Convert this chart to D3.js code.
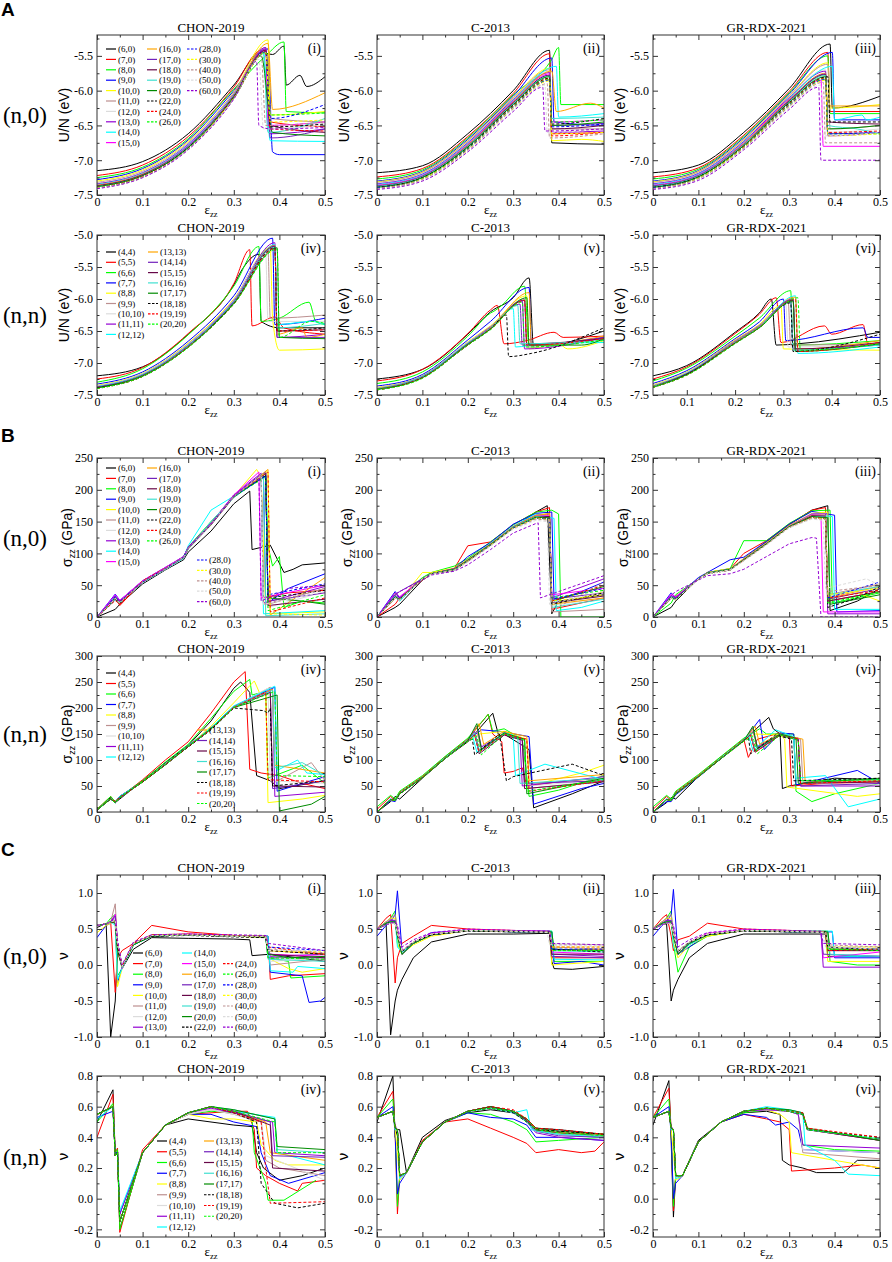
<!DOCTYPE html>
<html><head><meta charset="utf-8">
<script src="https://cdn.jsdelivr.net/npm/d3@7/dist/d3.min.js"></script>
<style>body{margin:0;background:#fff}</style>
</head><body>
<svg id="fig" width="892" height="1262"></svg>
<script>
// ---------- series styling / labels ----------
const COLORS = ["#000000","#ff0000","#00ff00","#0000ff","#ffff00","#bc8f8f","#dcdcdc","#9400d3","#00ffff","#ff00ff","#ffa500","#7221bc","#670748","#40e0d0","#008b00"];
const N0_LABELS = ["(6,0)","(7,0)","(8,0)","(9,0)","(10,0)","(11,0)","(12,0)","(13,0)","(14,0)","(15,0)","(16,0)","(17,0)","(18,0)","(19,0)","(20,0)","(22,0)","(24,0)","(26,0)","(28,0)","(30,0)","(40,0)","(50,0)","(60,0)"];
const N0_COLOR = [0,1,2,3,4,5,6,7,8,9,10,11,12,13,14,0,1,2,3,4,5,6,7];
const N0_DASH  = [0,0,0,0,0,0,0,0,0,0,0,0,0,0,0,1,1,1,1,1,1,1,1];
const NN_LABELS = ["(4,4)","(5,5)","(6,6)","(7,7)","(8,8)","(9,9)","(10,10)","(11,11)","(12,12)","(13,13)","(14,14)","(15,15)","(16,16)","(17,17)","(18,18)","(19,19)","(20,20)"];
const NN_COLOR = [0,1,2,3,4,5,6,7,8,10,11,12,13,14,0,1,2];
const NN_DASH  = [0,0,0,0,0,0,0,0,0,0,0,0,0,0,1,1,1];

// ---------- tick values ----------
const X_TICKS = [0,0.1,0.2,0.3,0.4,0.5];
const X_MINOR = [0.05,0.15,0.25,0.35,0.45];
const YT_A = [-7.5,-7.0,-6.5,-6.0,-5.5,-5.0];
const YT_B1 = [0,50,100,150,200,250];
const YT_B2 = [0,50,100,150,200,250,300];
const YT_C1 = [-1.0,-0.5,0.0,0.5,1.0];
const YT_C2 = [-0.2,0.0,0.2,0.4,0.6,0.8];

// ---------- strain grids (x) for the leading part of each series ----------
const GRID_A = [0,.1,.2,.3];
const GRID_A5 = [0,.1,.2,.25];
const GRID_A6 = [.03,.1,.2,.25];
const GRID_B1 = [0,.04,.05,.1,.15,.19,.2,.25,.3];
const GRID_B23 = [0,.04,.05,.1,.12,.17,.2,.25,.3,.35];
const GRID_B4 = [0,.03,.04,.05,.1,.15,.2,.25,.3];
const GRID_B56 = [0,.03,.04,.05,.1,.15,.2];
const GRID_C13 = [0,.02,.03,.04,.045,.055,.08,.12,.2,.3];
const GRID_C4 = [0,.035,.04,.045,.05,.1,.15,.2,.25,.3];
const GRID_C5 = [0,.035,.04,.045,.05,.065,.1,.15,.2,.25,.3];
const GRID_C6 = [0,.035,.04,.045,.05,.065,.1,.15,.2,.25];

// each series: [y values on grid], [tail as x,y,x,y,...]
// ---------- A: U/N (eV) ----------
const A_I = [
[[-7.15,-7.02,-6.62,-5.92],[.36,-5.45,.385,-5.48,.41,-5.36,.415,-5.92,.445,-5.78,.46,-5.94,.5,-5.8]],
[[-7.22,-7.07,-6.66,-5.95],[.36,-5.42,.375,-5.5,.38,-6.45,.5,-6.52]],
[[-7.25,-7.1,-6.69,-5.98],[.37,-5.5,.41,-5.3,.415,-6.3,.5,-6.32]],
[[-7.28,-7.12,-6.71,-6.0],[.375,-5.4,.385,-6.88,.4,-6.92,.5,-6.92]],
[[-7.3,-7.14,-6.73,-6.02],[.375,-5.27,.38,-6.35,.5,-6.3]],
[[-7.32,-7.16,-6.75,-6.03],[.37,-5.38,.38,-6.4,.5,-6.45]],
[[-7.33,-7.17,-6.76,-6.04],[.37,-5.4,.375,-6.55,.5,-6.45]],
[[-7.34,-7.18,-6.77,-6.05],[.37,-5.38,.38,-6.62,.5,-6.55]],
[[-7.35,-7.19,-6.78,-6.06],[.365,-5.45,.38,-6.72,.5,-6.73]],
[[-7.36,-7.2,-6.79,-6.07],[.37,-5.4,.375,-6.5,.5,-6.45]],
[[-7.36,-7.2,-6.8,-6.07],[.375,-5.32,.385,-6.27,.5,-6.03]],
[[-7.37,-7.21,-6.8,-6.08],[.37,-5.4,.38,-6.68,.5,-6.55]],
[[-7.37,-7.21,-6.81,-6.08],[.37,-5.42,.38,-6.5,.5,-6.6]],
[[-7.38,-7.22,-6.81,-6.09],[.365,-5.47,.375,-6.6,.5,-6.4]],
[[-7.38,-7.22,-6.82,-6.09],[.36,-5.5,.385,-6.6,.5,-6.65]],
[[-7.39,-7.23,-6.82,-6.1],[.37,-5.45,.38,-6.52,.5,-6.48]],
[[-7.39,-7.23,-6.83,-6.1],[.37,-5.43,.38,-6.55,.5,-6.58]],
[[-7.39,-7.24,-6.83,-6.11],[.37,-5.45,.38,-6.35,.5,-6.32]],
[[-7.4,-7.24,-6.84,-6.11],[.37,-5.44,.38,-6.4,.5,-6.2]],
[[-7.4,-7.24,-6.84,-6.11],[.37,-5.45,.38,-6.45,.5,-6.42]],
[[-7.4,-7.25,-6.84,-6.12],[.36,-5.5,.37,-6.5,.5,-6.45]],
[[-7.41,-7.25,-6.85,-6.12],[.355,-5.55,.365,-6.55,.5,-6.5]],
[[-7.41,-7.25,-6.85,-6.12],[.35,-5.58,.355,-6.5,.38,-6.55,.5,-6.53]]
];
const A_II = [
[[-7.18,-7.08,-6.62,-6.0],[.38,-5.42,.385,-6.75,.5,-6.77]],
[[-7.24,-7.12,-6.66,-6.04],[.38,-5.47,.385,-6.62,.5,-6.6]],
[[-7.27,-7.14,-6.68,-6.06],[.385,-5.55,.4,-5.38,.405,-6.2,.5,-6.2]],
[[-7.3,-7.16,-6.7,-6.08],[.385,-5.53,.39,-6.45,.5,-6.5]],
[[-7.31,-7.17,-6.72,-6.1],[.38,-5.68,.385,-6.72,.45,-6.7,.5,-6.73]],
[[-7.32,-7.18,-6.73,-6.11],[.38,-5.7,.385,-6.55,.5,-6.55]],
[[-7.33,-7.19,-6.74,-6.12],[.38,-5.72,.385,-6.5,.5,-6.48]],
[[-7.34,-7.2,-6.75,-6.13],[.38,-5.74,.385,-6.6,.5,-6.58]],
[[-7.35,-7.21,-6.76,-6.14],[.395,-5.65,.4,-6.38,.5,-6.33]],
[[-7.36,-7.22,-6.77,-6.15],[.38,-5.76,.385,-6.45,.5,-6.42]],
[[-7.37,-7.23,-6.78,-6.16],[.385,-5.72,.395,-6.3,.47,-6.18,.5,-6.25]],
[[-7.37,-7.23,-6.79,-6.17],[.38,-5.78,.385,-6.5,.5,-6.47]],
[[-7.38,-7.24,-6.8,-6.18],[.38,-5.78,.385,-6.55,.5,-6.5]],
[[-7.38,-7.24,-6.8,-6.19],[.38,-5.79,.385,-6.4,.5,-6.38]],
[[-7.39,-7.25,-6.81,-6.2],[.38,-5.8,.385,-6.5,.5,-6.45]],
[[-7.39,-7.25,-6.82,-6.21],[.38,-5.82,.385,-6.48,.5,-6.4]],
[[-7.4,-7.26,-6.83,-6.22],[.38,-5.83,.385,-6.65,.5,-6.6]],
[[-7.4,-7.26,-6.83,-6.23],[.38,-5.84,.385,-6.45,.5,-6.42]],
[[-7.4,-7.27,-6.84,-6.24],[.38,-5.85,.385,-6.52,.5,-6.48]],
[[-7.41,-7.27,-6.85,-6.25],[.38,-5.86,.385,-6.62,.5,-6.6]],
[[-7.41,-7.28,-6.86,-6.26],[.375,-5.9,.38,-6.68,.5,-6.62]],
[[-7.42,-7.29,-6.87,-6.28],[.37,-5.92,.375,-6.6,.5,-6.55]],
[[-7.42,-7.3,-6.88,-6.3],[.365,-5.95,.37,-6.58,.5,-6.55]]
];
const A_III = [
[[-7.18,-7.07,-6.6,-5.97],[.39,-5.33,.395,-6.25,.5,-6.08]],
[[-7.24,-7.11,-6.64,-6.01],[.385,-5.45,.39,-6.3,.5,-6.3]],
[[-7.27,-7.13,-6.66,-6.03],[.385,-5.5,.39,-6.33,.5,-6.33]],
[[-7.3,-7.15,-6.68,-6.05],[.395,-5.45,.4,-6.42,.5,-6.42]],
[[-7.31,-7.16,-6.7,-6.07],[.385,-5.6,.39,-6.25,.5,-6.2]],
[[-7.32,-7.17,-6.71,-6.08],[.385,-5.62,.39,-6.55,.5,-6.5]],
[[-7.33,-7.18,-6.72,-6.09],[.38,-5.7,.385,-6.6,.5,-6.55]],
[[-7.34,-7.19,-6.73,-6.1],[.38,-5.72,.385,-6.65,.5,-6.6]],
[[-7.35,-7.2,-6.74,-6.11],[.395,-5.65,.4,-6.42,.46,-6.35,.47,-6.42,.5,-6.38]],
[[-7.36,-7.21,-6.75,-6.12],[.37,-5.85,.375,-6.8,.5,-6.8]],
[[-7.37,-7.22,-6.76,-6.13],[.38,-5.75,.385,-6.22,.5,-6.22]],
[[-7.37,-7.22,-6.77,-6.14],[.38,-5.76,.385,-6.62,.5,-6.6]],
[[-7.38,-7.23,-6.78,-6.15],[.38,-5.77,.385,-6.45,.5,-6.48]],
[[-7.38,-7.23,-6.78,-6.16],[.38,-5.78,.385,-6.5,.45,-6.55,.5,-6.62]],
[[-7.39,-7.24,-6.79,-6.17],[.38,-5.8,.385,-6.55,.5,-6.5]],
[[-7.39,-7.24,-6.8,-6.18],[.385,-5.8,.39,-6.45,.5,-6.45]],
[[-7.4,-7.25,-6.8,-6.19],[.38,-5.82,.385,-6.6,.5,-6.58]],
[[-7.4,-7.25,-6.81,-6.2],[.38,-5.83,.385,-6.62,.5,-6.62]],
[[-7.4,-7.26,-6.82,-6.21],[.38,-5.84,.385,-6.62,.5,-6.6]],
[[-7.41,-7.26,-6.82,-6.22],[.38,-5.85,.385,-6.65,.5,-6.62]],
[[-7.41,-7.27,-6.83,-6.23],[.375,-5.88,.38,-6.75,.5,-6.75]],
[[-7.42,-7.28,-6.84,-6.25],[.37,-5.92,.375,-6.65,.5,-6.6]],
[[-7.42,-7.29,-6.85,-6.27],[.365,-5.95,.37,-7.0,.5,-7.0]]
];
const A_IV = [
[[-7.2,-7.06,-6.55,-5.78],[.32,-5.52,.355,-5.3,.36,-6.35,.4,-6.45,.5,-6.45]],
[[-7.25,-7.07,-6.54,-5.76],[.335,-5.23,.34,-6.42,.39,-6.28,.41,-6.45,.5,-6.55]],
[[-7.3,-7.09,-6.56,-5.8],[.355,-5.18,.36,-6.35,.4,-6.3,.465,-6.05,.48,-6.35,.5,-6.4]],
[[-7.33,-7.14,-6.66,-5.95],[.385,-5.05,.39,-6.4,.5,-6.3]],
[[-7.35,-7.16,-6.69,-6.0],[.38,-5.2,.385,-6.3,.4,-6.8,.5,-6.78]],
[[-7.36,-7.17,-6.7,-6.01],[.375,-5.25,.38,-6.3,.5,-6.25]],
[[-7.36,-7.17,-6.71,-6.02],[.37,-5.3,.375,-6.35,.5,-6.35]],
[[-7.37,-7.18,-6.72,-6.03],[.39,-5.12,.395,-6.6,.5,-6.55]],
[[-7.37,-7.18,-6.72,-6.04],[.39,-5.15,.395,-6.4,.47,-6.35,.5,-6.4]],
[[-7.38,-7.19,-6.73,-6.05],[.39,-5.16,.395,-6.55,.45,-6.45,.46,-6.6,.5,-6.55]],
[[-7.38,-7.19,-6.73,-6.05],[.39,-5.17,.395,-6.6,.5,-6.6]],
[[-7.38,-7.2,-6.74,-6.06],[.39,-5.18,.395,-6.5,.5,-6.48]],
[[-7.39,-7.2,-6.74,-6.06],[.39,-5.19,.395,-6.45,.5,-6.38]],
[[-7.39,-7.2,-6.75,-6.07],[.395,-5.2,.4,-6.6,.5,-6.62]],
[[-7.39,-7.21,-6.75,-6.07],[.39,-5.2,.395,-6.5,.5,-6.45]],
[[-7.4,-7.21,-6.75,-6.08],[.39,-5.21,.395,-6.5,.5,-6.48]],
[[-7.4,-7.21,-6.76,-6.08],[.395,-5.22,.4,-6.6,.47,-6.35,.5,-6.38]]
];
const A_V = [
[[-7.25,-7.1,-6.55,-6.2],[.3,-5.98,.335,-5.67,.345,-6.75,.5,-6.5]],
[[-7.28,-7.1,-6.54,-6.17],[.265,-6.1,.28,-6.7,.33,-6.65,.39,-6.52,.41,-6.6,.5,-6.58]],
[[-7.32,-7.14,-6.58,-6.22],[.26,-6.18,.27,-6.13,.325,-5.8,.335,-6.75,.5,-6.6]],
[[-7.36,-7.18,-6.64,-6.35],[.335,-5.82,.34,-6.72,.5,-6.62]],
[[-7.38,-7.2,-6.67,-6.42],[.33,-5.95,.335,-6.78,.4,-6.7,.42,-6.78,.5,-6.65]],
[[-7.39,-7.2,-6.68,-6.43],[.325,-6.0,.33,-6.75,.5,-6.6]],
[[-7.39,-7.21,-6.68,-6.44],[.32,-6.02,.325,-6.75,.5,-6.62]],
[[-7.4,-7.21,-6.69,-6.44],[.32,-6.03,.325,-6.78,.5,-6.6]],
[[-7.4,-7.21,-6.69,-6.45],[.3,-6.15,.305,-6.75,.36,-6.7,.5,-6.68]],
[[-7.4,-7.22,-6.7,-6.45],[.335,-5.9,.34,-6.72,.5,-6.58]],
[[-7.41,-7.22,-6.7,-6.46],[.315,-6.08,.32,-6.72,.5,-6.6]],
[[-7.41,-7.22,-6.71,-6.46],[.325,-6.02,.33,-6.7,.5,-6.62]],
[[-7.41,-7.22,-6.71,-6.46],[.31,-6.1,.315,-6.7,.5,-6.65]],
[[-7.41,-7.23,-6.71,-6.47],[.33,-5.98,.335,-6.72,.45,-6.72,.5,-6.62]],
[[-7.42,-7.23,-6.72,-6.47],[.285,-6.25,.29,-6.9,.34,-6.85,.5,-6.45]],
[[-7.42,-7.23,-6.72,-6.47],[.325,-6.02,.33,-6.72,.5,-6.62]],
[[-7.42,-7.24,-6.72,-6.48],[.32,-6.05,.325,-6.75,.5,-6.64]]
];
const A_VI = [
[[-7.2,-7.04,-6.52,-6.22],[.275,-6.0,.285,-6.72,.33,-6.7,.5,-6.52]],
[[-7.25,-7.06,-6.54,-6.24],[.285,-5.98,.295,-6.68,.385,-6.42,.4,-6.55,.465,-6.4,.475,-6.7,.5,-6.68]],
[[-7.28,-7.08,-6.58,-6.3],[.315,-5.87,.32,-6.72,.5,-6.65]],
[[-7.32,-7.12,-6.62,-6.36],[.3,-6.0,.305,-6.65,.465,-6.45,.475,-6.6,.5,-6.6]],
[[-7.34,-7.14,-6.64,-6.4],[.295,-6.1,.3,-6.78,.5,-6.8]],
[[-7.35,-7.15,-6.65,-6.41],[.31,-6.05,.315,-6.72,.5,-6.7]],
[[-7.35,-7.15,-6.66,-6.42],[.305,-6.08,.31,-6.75,.5,-6.7]],
[[-7.36,-7.16,-6.66,-6.42],[.315,-6.02,.32,-6.78,.5,-6.72]],
[[-7.36,-7.16,-6.67,-6.43],[.325,-5.95,.33,-6.85,.5,-6.75]],
[[-7.36,-7.17,-6.67,-6.43],[.325,-5.97,.33,-6.78,.5,-6.65]],
[[-7.37,-7.17,-6.68,-6.44],[.32,-6.0,.325,-6.8,.5,-6.7]],
[[-7.37,-7.17,-6.68,-6.44],[.32,-6.02,.325,-6.78,.5,-6.68]],
[[-7.37,-7.18,-6.68,-6.44],[.315,-6.05,.32,-6.8,.5,-6.72]],
[[-7.38,-7.18,-6.69,-6.45],[.32,-6.03,.325,-6.82,.5,-6.7]],
[[-7.38,-7.18,-6.69,-6.45],[.315,-6.06,.32,-6.82,.5,-6.55]],
[[-7.38,-7.19,-6.69,-6.45],[.325,-6.0,.33,-6.82,.5,-6.68]],
[[-7.38,-7.19,-6.7,-6.45],[.33,-5.98,.335,-6.8,.5,-6.7]]
];
// ---------- B: sigma_zz (GPa) ----------
const B_I = [
[[0,12,20,52,74,90,102,135,178],[.335,198,.34,106,.38,113,.41,70,.43,75,.45,82,.5,85]],
[[0,30,18,56,77,93,110,146,190],[.36,222,.365,30,.42,38,.5,42]],
[[0,33,24,55,76,95,110,150,188],[.37,225,.375,112,.385,80,.4,95,.41,15,.45,25,.5,22]],
[[0,36,26,57,78,95,109,146,190],[.365,224,.37,20,.42,45,.5,68]],
[[0,30,22,55,76,94,108,147,190],[.35,232,.36,220,.37,5,.5,8]],
[[0,28,24,55,75,93,107,145,188],[.37,228,.375,20,.5,45]],
[[0,26,22,54,75,92,106,144,188],[.37,226,.375,15,.5,40]],
[[0,34,25,56,77,95,110,148,192],[.36,226,.365,22,.5,48]],
[[0,32,22,55,76,94,112,168,190],[.36,224,.365,5,.5,10]],
[[0,35,26,57,78,95,109,147,192],[.355,228,.36,30,.5,50]],
[[0,28,22,55,76,93,108,146,190],[.375,232,.38,3,.5,62]],
[[0,30,24,55,76,94,110,147,191],[.37,228,.375,25,.5,38]],
[[0,28,23,55,76,93,108,145,189],[.37,226,.375,18,.5,28]],
[[0,27,22,54,75,92,107,150,188],[.365,220,.37,2,.5,5]],
[[0,30,24,55,76,94,108,146,190],[.37,222,.375,30,.45,25,.5,20]],
[[0,28,22,55,76,94,108,146,189],[.37,222,.375,30,.5,42]],
[[0,26,20,57,77,94,108,146,190],[.375,228,.38,8,.5,30]],
[[0,30,24,55,76,94,108,146,190],[.37,220,.375,10,.5,35]],
[[0,32,24,55,76,94,108,146,190],[.37,222,.375,35,.5,52]],
[[0,30,23,55,76,94,108,146,190],[.375,230,.38,5,.5,3]],
[[0,29,23,55,76,94,108,146,190],[.36,224,.365,20,.5,45]],
[[0,29,23,55,76,94,108,146,190],[.36,222,.365,20,.5,40]],
[[0,31,24,55,76,94,108,146,190],[.355,222,.36,25,.42,45,.5,50]]
];
const B_II = [
[[0,15,20,58,68,73,88,113,140,165],[.375,175,.385,5,.4,25,.5,35]],
[[0,20,30,58,68,76,112,118,145,165],[.38,172,.385,12,.5,30]],
[[0,38,30,62,70,80,92,118,145,165],[.385,168,.4,162,.405,0,.5,0]],
[[0,40,30,60,69,76,95,117,146,163],[.385,165,.39,25,.45,40,.5,55]],
[[0,32,26,70,70,77,90,115,142,160],[.38,163,.385,20,.45,30,.5,40]],
[[0,30,27,60,68,75,89,114,141,158],[.38,160,.385,8,.5,12]],
[[0,30,27,60,68,75,89,114,141,158],[.38,160,.385,18,.5,30]],
[[0,34,30,60,68,76,90,115,142,160],[.38,162,.385,30,.5,60]],
[[0,32,25,60,68,75,90,116,143,162],[.39,155,.395,10,.45,15,.5,25]],
[[0,38,32,60,68,76,90,115,142,160],[.38,160,.385,35,.5,45]],
[[0,30,28,60,68,76,90,115,142,160],[.38,162,.385,20,.5,30]],
[[0,35,40,60,68,76,88,114,141,158],[.38,158,.385,28,.5,38]],
[[0,30,27,60,68,75,89,114,141,158],[.38,158,.385,22,.5,33]],
[[0,33,26,60,68,75,89,114,141,158],[.38,156,.385,15,.5,28]],
[[0,32,28,60,68,75,89,114,140,157],[.38,156,.385,25,.5,48]],
[[0,30,27,60,68,74,88,113,140,156],[.38,155,.385,20,.5,38]],
[[0,31,27,60,68,74,88,113,140,156],[.38,155,.385,25,.5,50]],
[[0,31,27,60,68,74,88,113,140,156],[.38,154,.385,30,.5,42]],
[[0,31,27,60,68,74,88,113,140,155],[.38,154,.385,28,.5,45]],
[[0,30,27,60,68,74,88,113,140,155],[.38,153,.385,25,.5,35]],
[[0,30,27,60,68,74,87,112,139,154],[.38,152,.385,10,.5,55]],
[[0,30,26,60,67,73,86,111,138,152],[.375,150,.38,20,.5,40]],
[[0,36,40,58,66,72,82,106,132,147],[.355,148,.36,30,.42,45,.5,65]]
];
const B_III = [
[[0,15,25,60,70,74,92,118,145,168],[.385,175,.39,10,.45,25,.5,45]],
[[0,30,32,60,70,76,100,120,146,168],[.38,172,.385,25,.5,40]],
[[0,22,35,60,70,76,120,120,147,167],[.39,168,.395,22,.5,38]],
[[0,38,30,62,70,90,94,119,146,166],[.4,160,.405,8,.5,10]],
[[0,32,28,60,70,76,92,117,144,163],[.385,165,.39,28,.45,38,.5,25]],
[[0,30,28,60,69,75,91,116,143,162],[.38,163,.385,35,.5,52]],
[[0,30,28,60,69,75,91,116,143,162],[.38,162,.385,32,.5,50]],
[[0,34,30,60,69,75,91,116,143,162],[.38,162,.385,5,.5,5]],
[[0,32,28,60,69,75,91,116,143,161],[.395,158,.4,12,.5,12]],
[[0,36,32,60,69,75,91,116,143,161],[.37,160,.375,8,.5,8]],
[[0,30,28,60,69,75,91,116,143,160],[.38,160,.385,30,.5,48]],
[[0,33,30,60,69,75,90,115,142,159],[.38,159,.385,28,.5,45]],
[[0,30,28,60,69,75,90,115,142,159],[.38,158,.385,25,.5,40]],
[[0,32,27,60,69,75,90,115,142,158],[.385,157,.39,35,.5,48]],
[[0,31,28,60,69,75,90,115,142,158],[.385,156,.39,20,.5,35]],
[[0,30,27,60,68,74,89,114,141,157],[.38,155,.385,15,.45,30,.5,48]],
[[0,31,27,60,68,74,89,114,141,157],[.38,155,.385,30,.5,42]],
[[0,31,28,60,68,74,89,114,141,156],[.38,155,.385,22,.5,40]],
[[0,31,28,60,68,74,89,114,141,156],[.38,154,.385,30,.5,55]],
[[0,30,27,60,68,74,89,114,141,156],[.38,154,.385,35,.5,45]],
[[0,30,27,60,68,74,89,114,141,155],[.38,153,.385,40,.5,50]],
[[0,30,27,60,68,74,88,113,140,154],[.375,152,.38,45,.47,60,.5,50]],
[[0,34,40,58,65,68,75,95,115,125],[.36,124,.37,0,.5,0]]
];
const B_IV = [
[[5,28,18,25,60,95,128,175,238],[.315,250,.335,230,.35,70,.38,60,.4,45,.5,60]],
[[5,30,18,28,62,100,135,190,250],[.325,270,.335,82,.36,75,.4,70,.45,55,.5,45]],
[[5,30,20,30,60,96,130,180,232],[.335,255,.34,225,.37,232,.375,65,.45,90,.5,55]],
[[4,25,18,30,58,92,127,162,203],[.39,240,.395,40,.45,55,.5,68]],
[[4,26,20,28,58,92,126,165,210],[.345,252,.36,222,.37,230,.375,18,.45,25,.5,32]],
[[4,26,18,28,58,92,126,160,202],[.38,240,.385,55,.47,95,.5,60]],
[[4,25,18,27,58,91,126,160,202],[.375,238,.38,60,.5,55]],
[[4,26,20,30,58,92,127,161,203],[.385,236,.39,30,.5,38]],
[[4,26,18,30,58,92,127,162,204],[.39,242,.395,80,.44,100,.46,75,.5,72]],
[[4,25,20,28,58,91,126,160,202],[.385,236,.39,90,.5,75]],
[[4,25,18,28,58,91,126,160,202],[.38,232,.385,45,.5,60]],
[[4,25,18,27,58,91,126,160,201],[.38,230,.385,50,.5,48]],
[[4,25,18,28,58,91,126,160,202],[.385,234,.39,85,.45,95,.5,70]],
[[4,25,18,28,58,91,126,160,201],[.395,225,.4,2,.47,15,.5,30]],
[[4,25,20,28,58,91,125,158,200],[.365,195,.375,190,.38,200,.385,50,.5,60]],
[[4,25,20,28,58,91,126,160,201],[.37,230,.375,62,.5,58]],
[[4,25,18,28,58,91,126,160,201],[.39,232,.395,70,.5,68]]
];
const B_V = [
[[0,20,30,25,65,103,135],[.255,190,.27,140,.28,150,.335,120,.345,8,.43,35,.5,60]],
[[5,30,22,38,68,106,140],[.245,188,.255,150,.275,135,.28,75,.3,78,.32,85,.33,50,.42,60,.5,65]],
[[10,32,25,40,70,107,142],[.245,188,.255,155,.28,160,.32,140,.335,30,.4,42,.5,70]],
[[0,22,20,35,66,104,138],[.23,158,.27,155,.335,145,.345,15,.45,45,.5,55]],
[[0,24,22,36,66,104,138],[.225,150,.28,155,.33,140,.335,50,.45,75,.5,90]],
[[0,24,22,36,66,104,137],[.22,155,.23,120,.28,152,.325,140,.33,45,.5,60]],
[[0,24,22,36,66,104,137],[.215,150,.225,125,.28,150,.325,138,.33,50,.5,62]],
[[0,25,22,36,66,104,138],[.22,165,.23,125,.28,150,.315,142,.32,50,.5,68]],
[[0,25,22,36,66,104,138],[.21,148,.22,115,.28,152,.3,148,.305,70,.37,92,.5,62]],
[[0,24,22,35,66,103,137],[.225,170,.235,130,.28,155,.33,145,.335,60,.5,72]],
[[0,24,22,35,66,103,137],[.215,155,.225,118,.28,150,.32,140,.325,55,.5,60]],
[[0,24,22,35,66,103,137],[.215,150,.225,112,.28,148,.32,138,.325,45,.5,58]],
[[0,24,22,35,66,103,137],[.215,152,.225,115,.28,150,.31,145,.315,55,.5,65]],
[[0,24,22,35,66,103,137],[.22,170,.23,120,.28,152,.325,140,.33,35,.5,65]],
[[0,24,22,35,66,103,136],[.21,140,.215,110,.27,150,.285,60,.3,68,.43,92,.5,70]],
[[0,24,22,35,66,103,136],[.215,148,.225,115,.28,150,.33,140,.335,40,.5,60]],
[[0,24,22,35,66,103,136],[.22,145,.23,110,.28,150,.325,138,.33,40,.5,62]]
];
const B_VI = [
[[0,18,28,25,68,103,138],[.255,182,.265,160,.28,150,.285,45,.3,50,.4,65,.5,62]],
[[5,30,22,38,70,106,140],[.21,105,.23,140,.28,152,.3,150,.305,50,.38,55,.5,58]],
[[10,32,25,40,72,107,142],[.235,160,.25,150,.31,150,.315,40,.35,20,.4,35,.5,55]],
[[0,20,20,33,67,103,138],[.235,178,.245,120,.28,152,.31,150,.315,52,.45,80,.5,55]],
[[0,24,22,36,68,104,138],[.225,150,.28,148,.29,140,.295,48,.45,30,.5,35]],
[[0,24,22,36,68,104,137],[.22,155,.23,125,.28,148,.325,140,.33,60,.5,58]],
[[0,24,22,36,68,104,137],[.215,148,.225,120,.28,148,.32,140,.325,55,.5,52]],
[[0,25,22,36,68,104,138],[.22,160,.23,125,.28,150,.32,142,.325,50,.5,50]],
[[0,25,22,36,68,104,138],[.21,150,.22,118,.27,158,.31,145,.315,65,.38,70,.43,10,.5,25]],
[[0,24,22,35,68,103,137],[.225,165,.235,130,.28,150,.33,140,.335,60,.5,60]],
[[0,24,22,35,68,103,137],[.215,150,.225,118,.28,148,.32,140,.325,50,.5,55]],
[[0,24,22,35,68,103,137],[.215,150,.225,115,.28,148,.32,138,.325,55,.5,58]],
[[0,24,22,35,68,103,137],[.215,152,.225,118,.28,150,.31,145,.315,60,.5,62]],
[[0,24,22,35,68,103,137],[.22,165,.23,122,.28,150,.315,142,.32,55,.5,65]],
[[0,24,22,35,68,103,136],[.21,145,.215,112,.27,148,.305,140,.31,60,.5,65]],
[[0,24,22,35,68,103,136],[.215,148,.225,115,.28,148,.32,140,.325,55,.5,60]],
[[0,24,22,35,68,103,136],[.22,145,.23,112,.28,148,.32,138,.325,60,.5,62]]
];
// ---------- C: Poisson ratio ----------
const C_I = [
[[.52,.58,-1,-.5,.25,-.05,.22,.38,.37,.36],[.335,.35,.34,.13,.38,.15,.5,.05]],
[[.55,.57,.6,-.38,.1,.2,.3,.55,.46,.41],[.375,.4,.38,-.2,.42,-.15,.5,-.12]],
[[.55,.57,.65,.7,-.15,-.05,.28,.4,.42,.4],[.37,.4,.375,.1,.42,.05,.425,-.18,.5,-.15]],
[[.38,.55,.58,.62,-.25,-.02,.28,.4,.42,.4],[.375,.4,.38,-.1,.45,-.15,.465,-.52,.49,-.5,.5,-.45]],
[[.45,.55,.58,.62,-.3,-.05,.3,.4,.42,.4],[.37,.38,.375,.1,.42,-.05,.45,-.1,.5,-.05]],
[[.55,.57,.6,.85,.3,0,.3,.42,.43,.41],[.37,.4,.38,0,.5,.08]],
[[.55,.57,.6,.65,.25,-.02,.3,.4,.42,.4],[.37,.4,.38,.05,.5,.1]],
[[.55,.57,.6,.7,.3,-.02,.3,.41,.42,.4],[.37,.4,.38,.12,.5,.15]],
[[.55,.57,.6,.55,-.2,-.05,.28,.4,.42,.4],[.375,.4,.38,-.08,.43,-.1,.44,-.02,.5,-.05]],
[[.55,.57,.6,.7,.3,-.05,.3,.41,.43,.41],[.37,.4,.375,.15,.5,.12]],
[[.55,.57,.6,.62,.2,-.03,.3,.4,.42,.4],[.37,.4,.375,.2,.5,.15]],
[[.55,.57,.6,.68,.3,-.02,.3,.4,.42,.4],[.37,.4,.375,.1,.5,.1]],
[[.55,.57,.6,.6,.25,-.03,.3,.4,.42,.4],[.37,.39,.375,.15,.5,.1]],
[[.55,.57,.6,.6,.2,-.04,.28,.4,.42,.4],[.37,.39,.375,.08,.5,.05]],
[[.55,.57,.6,.58,.2,-.03,.28,.4,.42,.4],[.37,.39,.375,.15,.42,.1,.5,.12]],
[[.55,.57,.6,.6,.25,-.03,.3,.4,.41,.39],[.37,.38,.375,.2,.5,.15]],
[[.55,.57,.6,.6,.3,-.02,.3,.42,.43,.41],[.37,.4,.375,.25,.5,.15]],
[[.55,.57,.6,.62,.3,-.02,.3,.41,.42,.4],[.37,.4,.375,.1,.5,.08]],
[[.55,.57,.6,.62,.3,-.02,.3,.41,.42,.4],[.37,.4,.375,.25,.5,.2]],
[[.55,.57,.6,.62,.3,-.02,.3,.41,.42,.4],[.37,.4,.375,.2,.5,.18]],
[[.55,.57,.6,.62,.3,-.02,.3,.41,.42,.4],[.37,.4,.375,.22,.5,.17]],
[[.55,.57,.6,.62,.3,-.02,.3,.41,.42,.4],[.37,.4,.375,.2,.5,.2]],
[[.55,.57,.6,.65,.35,0,.32,.42,.43,.42],[.37,.41,.375,.3,.5,.2]]
];
const C_II = [
[[.5,.57,-.97,-.5,-.35,-.2,.1,.32,.43,.43],[.38,.44,.385,.05,.39,-.05,.43,-.06,.5,-.02]],
[[.5,.65,.7,-.25,.1,.3,.4,.55,.5,.48],[.38,.47,.385,.1,.5,.1]],
[[.5,.6,.65,.75,.3,.15,.3,.42,.48,.47],[.385,.47,.39,.05,.45,.05,.5,.05]],
[[.4,.55,.6,.7,1.03,.2,.3,.45,.48,.46],[.385,.46,.39,.02,.45,.05,.5,0]],
[[.5,.6,.65,.65,.3,.15,.28,.4,.48,.47],[.38,.47,.385,0,.5,.05]],
[[.5,.6,.65,.7,.5,.15,.3,.42,.48,.47],[.38,.47,.385,.25,.5,.22]],
[[.5,.58,.62,.6,.4,.15,.3,.42,.48,.47],[.38,.47,.385,.3,.5,.28]],
[[.5,.58,.62,.6,.45,.15,.3,.42,.48,.47],[.38,.47,.385,.15,.5,.12]],
[[.5,.58,.6,.62,.25,.18,.3,.42,.48,.47],[.385,.47,.39,.08,.5,.07]],
[[.5,.58,.62,.62,.5,.2,.32,.44,.49,.48],[.38,.47,.385,.18,.5,.15]],
[[.5,.58,.6,.6,.4,.15,.3,.42,.48,.47],[.38,.46,.385,.2,.5,.22]],
[[.5,.58,.62,.62,.45,.15,.3,.42,.48,.47],[.38,.46,.385,.12,.5,.1]],
[[.5,.58,.6,.6,.42,.15,.3,.42,.48,.47],[.38,.46,.385,.15,.5,.15]],
[[.5,.58,.6,.6,.4,.15,.3,.42,.48,.47],[.385,.46,.39,.2,.5,.18]],
[[.5,.58,.6,.6,.4,.15,.3,.42,.48,.46],[.385,.46,.39,.22,.5,.2]],
[[.5,.56,.58,.58,.42,.18,.32,.42,.47,.46],[.38,.46,.385,.22,.5,.18]],
[[.5,.56,.58,.58,.45,.2,.32,.43,.48,.47],[.38,.46,.385,.25,.5,.25]],
[[.5,.56,.58,.58,.45,.2,.32,.43,.48,.47],[.38,.46,.385,.2,.5,.2]],
[[.5,.56,.58,.58,.45,.2,.32,.43,.48,.47],[.38,.46,.385,.22,.5,.22]],
[[.5,.56,.58,.58,.45,.2,.32,.43,.48,.47],[.38,.46,.385,.25,.5,.25]],
[[.5,.56,.58,.58,.45,.2,.32,.43,.48,.47],[.38,.46,.385,.28,.5,.28]],
[[.5,.56,.58,.58,.45,.2,.32,.43,.48,.47],[.375,.45,.38,.28,.5,.25]],
[[.5,.56,.58,.6,.55,.25,.35,.45,.5,.48],[.38,.47,.385,.3,.5,.28]]
];
const C_III = [
[[.5,.57,.57,-.5,-.35,-.2,.1,.3,.43,.43],[.38,.43,.385,.12,.45,.12,.5,.12]],
[[.5,.65,.7,.4,.2,.35,.4,.58,.5,.48],[.38,.47,.385,.2,.5,.2]],
[[.5,.6,.65,.75,.3,-.1,.25,.4,.48,.47],[.385,.47,.39,.05,.45,0,.5,0]],
[[.4,.55,.6,.7,1.05,.15,.25,.42,.48,.46],[.395,.46,.4,.1,.5,.1]],
[[.5,.6,.65,.65,.3,.1,.28,.4,.48,.47],[.38,.47,.385,.05,.5,.05]],
[[.5,.6,.65,.7,.5,.15,.3,.42,.48,.47],[.38,.47,.385,.25,.5,.22]],
[[.5,.58,.62,.6,.4,.15,.3,.42,.48,.47],[.38,.47,.385,.25,.5,.25]],
[[.5,.58,.62,.6,.45,.15,.3,.42,.48,.47],[.37,.46,.375,-.03,.5,-.03]],
[[.5,.58,.6,.62,.25,.15,.28,.42,.48,.47],[.395,.47,.4,.12,.5,.12]],
[[.5,.58,.62,.62,.5,.15,.32,.44,.49,.48],[.37,.46,.375,.1,.5,.18]],
[[.5,.58,.6,.6,.4,.15,.3,.42,.48,.47],[.38,.46,.385,.22,.5,.22]],
[[.5,.58,.62,.62,.45,.15,.3,.42,.48,.47],[.37,.46,.375,.15,.5,.12]],
[[.5,.58,.6,.6,.42,.15,.3,.42,.48,.47],[.38,.46,.385,.2,.5,.2]],
[[.5,.58,.6,.6,.4,.15,.3,.42,.48,.47],[.385,.46,.39,.15,.5,.12]],
[[.5,.58,.6,.6,.4,.15,.3,.42,.48,.46],[.385,.46,.39,.22,.5,.22]],
[[.5,.56,.58,.58,.42,.18,.32,.42,.47,.46],[.38,.46,.385,.25,.5,.2]],
[[.5,.56,.58,.58,.45,.2,.32,.43,.48,.47],[.38,.46,.385,.2,.5,.22]],
[[.5,.56,.58,.58,.45,.2,.32,.43,.48,.47],[.38,.46,.385,.22,.5,.2]],
[[.5,.56,.58,.58,.45,.2,.32,.43,.48,.47],[.38,.46,.385,.25,.5,.22]],
[[.5,.56,.58,.58,.45,.2,.32,.43,.48,.47],[.38,.46,.385,.25,.5,.25]],
[[.5,.56,.58,.58,.45,.2,.32,.43,.48,.47],[.38,.46,.385,.28,.5,.25]],
[[.5,.56,.58,.58,.45,.2,.32,.43,.48,.47],[.375,.45,.38,.25,.5,.22]],
[[.5,.56,.58,.6,.55,.25,.35,.45,.5,.48],[.37,.47,.375,.3,.5,.28]]
];
const C_IV = [
[[.5,.71,.28,.3,-.2,.3,.48,.52,.5,.48],[.34,.47,.345,.4,.35,.3,.365,.2,.4,.12,.45,.15,.5,.2]],
[[.4,.68,.3,.33,-.22,.32,.48,.55,.56,.57],[.33,.57,.345,.45,.35,.2,.37,.15,.4,.1,.44,.05,.45,.1,.5,.12]],
[[.5,.62,.28,.32,-.2,.3,.48,.55,.57,.56],[.34,.52,.345,.3,.37,.1,.375,-.01,.41,-.01,.48,.12]],
[[.53,.57,.3,.3,-.1,.3,.48,.55,.55,.5],[.35,.47,.36,.3,.38,.15,.42,.1,.5,.17]],
[[.55,.6,.28,.3,-.15,.3,.48,.55,.52,.52],[.35,.5,.36,.35,.39,.25,.42,.22,.5,.22]],
[[.55,.6,.28,.3,-.15,.3,.48,.55,.58,.55],[.36,.5,.37,.25,.4,.2,.5,.15]],
[[.55,.6,.28,.3,-.15,.3,.48,.55,.58,.55],[.36,.52,.37,.28,.5,.12]],
[[.55,.6,.28,.3,-.1,.3,.48,.56,.59,.56],[.385,.5,.39,.3,.5,.28]],
[[.52,.6,.28,.3,-.08,.3,.48,.56,.6,.57],[.39,.53,.395,.3,.5,.22]],
[[.55,.6,.28,.3,-.15,.3,.48,.56,.6,.57],[.37,.5,.38,.3,.5,.25]],
[[.55,.6,.28,.3,-.15,.3,.48,.56,.6,.57],[.38,.5,.385,.28,.5,.27]],
[[.55,.6,.28,.3,-.15,.3,.48,.56,.6,.57],[.38,.48,.385,.2,.5,.18]],
[[.55,.6,.28,.3,-.15,.3,.48,.56,.6,.58],[.39,.52,.395,.32,.5,.3]],
[[.55,.6,.28,.3,-.15,.3,.48,.56,.6,.58],[.39,.52,.395,.34,.5,.32]],
[[.55,.6,.28,.3,-.15,.3,.48,.56,.6,.56],[.35,.5,.36,.1,.39,-.03,.44,-.06,.5,-.03]],
[[.55,.6,.28,.3,-.15,.3,.48,.56,.6,.56],[.36,.5,.37,.2,.38,-.03,.5,-.02]],
[[.55,.6,.28,.3,-.15,.3,.48,.56,.6,.57],[.39,.5,.395,.3,.5,.3]]
];
const C_V = [
[[.5,.8,.4,.45,.45,.17,.4,.51,.56,.58,.56],[.33,.52,.35,.46,.4,.45,.5,.42]],
[[.53,.7,.42,-.1,.15,.17,.38,.5,.52,.46,.4],[.33,.36,.35,.3,.4,.32,.45,.3,.48,.31,.5,.37]],
[[.53,.65,.45,-.05,.15,.17,.37,.5,.56,.55,.5],[.33,.45,.35,.37,.4,.38,.5,.4]],
[[.53,.6,.42,.03,.1,.17,.37,.5,.56,.53,.52],[.33,.48,.35,.4,.4,.4,.5,.38]],
[[.53,.57,.45,.3,.12,.17,.37,.5,.57,.6,.57],[.33,.52,.35,.45,.4,.43,.5,.42]],
[[.53,.57,.48,.45,.15,.17,.37,.5,.57,.59,.57],[.33,.52,.35,.45,.4,.42,.5,.4]],
[[.53,.57,.48,.45,.15,.17,.37,.5,.57,.59,.57],[.33,.5,.35,.44,.4,.42,.5,.41]],
[[.53,.57,.47,.45,.14,.17,.37,.5,.57,.6,.57],[.33,.5,.35,.43,.4,.4,.5,.38]],
[[.53,.57,.45,.45,.13,.17,.37,.5,.57,.6,.56],[.33,.58,.34,.45,.4,.42,.5,.4]],
[[.53,.57,.46,.45,.15,.17,.37,.5,.57,.6,.57],[.33,.52,.35,.45,.4,.43,.5,.41]],
[[.53,.57,.46,.45,.15,.17,.37,.5,.57,.6,.57],[.33,.51,.35,.44,.4,.41,.5,.4]],
[[.53,.57,.46,.45,.15,.17,.37,.5,.57,.6,.57],[.33,.51,.35,.45,.4,.43,.5,.41]],
[[.53,.57,.46,.45,.15,.17,.37,.5,.57,.59,.56],[.33,.5,.35,.44,.4,.42,.5,.41]],
[[.53,.57,.46,.45,.15,.17,.37,.5,.57,.6,.57],[.33,.52,.35,.46,.4,.44,.5,.42]],
[[.53,.57,.46,.45,.15,.17,.37,.5,.57,.59,.56],[.33,.5,.35,.45,.4,.44,.5,.42]],
[[.53,.57,.46,.45,.15,.17,.37,.5,.57,.6,.58],[.33,.52,.35,.46,.4,.45,.5,.42]],
[[.53,.57,.46,.45,.15,.17,.37,.5,.57,.59,.57],[.33,.5,.35,.45,.4,.43,.5,.41]]
];
const C_VI = [
[[.48,.77,.38,-.12,.15,.15,.38,.5,.56,.57],[.28,.55,.285,.25,.3,.22,.33,.2,.36,.17,.42,.17,.45,.25,.5,.25]],
[[.53,.72,.45,-.08,.15,.15,.37,.5,.55,.52],[.28,.5,.3,.45,.305,.18,.4,.2,.46,.22,.5,.2]],
[[.53,.65,.45,-.05,.15,.15,.37,.5,.56,.58],[.3,.57,.32,.55,.33,.35,.4,.32,.5,.31]],
[[.53,.6,.42,0,.1,.15,.37,.5,.55,.53],[.27,.48,.3,.5,.32,.45,.33,.32,.5,.3]],
[[.53,.57,.45,.3,.12,.15,.37,.5,.57,.58],[.28,.55,.3,.5,.305,.3,.4,.25,.5,.2]],
[[.53,.57,.47,.45,.15,.15,.37,.5,.57,.58],[.3,.57,.32,.55,.33,.3,.5,.26]],
[[.53,.57,.47,.45,.15,.15,.37,.5,.57,.58],[.3,.57,.32,.55,.33,.32,.5,.3]],
[[.53,.57,.47,.45,.15,.15,.37,.5,.57,.58],[.3,.57,.32,.55,.33,.35,.5,.33]],
[[.53,.57,.45,.45,.13,.15,.37,.5,.57,.6],[.3,.58,.33,.56,.335,.35,.4,.25,.43,.16,.5,.15]],
[[.53,.57,.46,.45,.15,.15,.37,.5,.57,.59],[.3,.57,.33,.55,.34,.45,.5,.38]],
[[.53,.57,.46,.45,.15,.15,.37,.5,.57,.59],[.3,.57,.33,.55,.34,.45,.5,.38]],
[[.53,.57,.46,.45,.15,.15,.37,.5,.57,.59],[.3,.57,.33,.55,.34,.45,.5,.38]],
[[.53,.57,.46,.45,.15,.15,.37,.5,.57,.59],[.3,.57,.33,.55,.34,.45,.5,.39]],
[[.53,.57,.46,.45,.15,.15,.37,.5,.57,.59],[.3,.58,.33,.56,.34,.46,.5,.38]],
[[.53,.57,.46,.45,.15,.15,.37,.5,.57,.59],[.3,.57,.33,.55,.34,.45,.5,.4]],
[[.53,.57,.46,.45,.15,.15,.37,.5,.57,.59],[.3,.57,.33,.56,.34,.46,.5,.4]],
[[.53,.57,.46,.45,.15,.15,.37,.5,.57,.59],[.3,.57,.33,.55,.34,.45,.5,.39]]
];

// ---------- drawing ----------
const svg = d3.select('#fig');
const SERIF = "'Liberation Serif','Times New Roman',serif";
const SANS = "'Liberation Sans',Arial,sans-serif";
const COLS = [[97,325],[377,604],[653,880]];
const ROWS = {A1:[35,195],A2:[235,395],B1:[458,617],B2:[656,812],C1:[875,1037],C2:[1076,1237]};

const fmt1 = d => d.toFixed(1);
const fmtX = d => d === 0 ? '0' : d.toFixed(1);
const fmtI = d => String(d);

const PANELS = [
 {row:'A1',col:0,data:A_I,grid:GRID_A,nn:false,ydom:[-7.5,-5.2],yt:YT_A,ym:0.25,fy:fmt1,title:'CHON-2019',roman:'(i)',q:'A',smooth:true,
  legend:{step:10.4,cols:[[0,9,9,14],[10,17,50,14],[18,22,90,14]]}},
 {row:'A1',col:1,data:A_II,grid:GRID_A,nn:false,ydom:[-7.5,-5.2],yt:YT_A,ym:0.25,fy:fmt1,title:'C-2013',roman:'(ii)',q:'A',smooth:true},
 {row:'A1',col:2,data:A_III,grid:GRID_A,nn:false,ydom:[-7.5,-5.2],yt:YT_A,ym:0.25,fy:fmt1,title:'GR-RDX-2021',roman:'(iii)',q:'A',smooth:true},
 {row:'A2',col:0,data:A_IV,grid:GRID_A,nn:true,ydom:[-7.5,-5.0],yt:YT_A,ym:0.25,fy:fmt1,title:'CHON-2019',roman:'(iv)',q:'A',smooth:true,
  legend:{step:10.3,cols:[[0,8,9,17],[9,16,51,17]]}},
 {row:'A2',col:1,data:A_V,grid:GRID_A5,nn:true,ydom:[-7.5,-5.0],yt:YT_A,ym:0.25,fy:fmt1,title:'C-2013',roman:'(v)',q:'A',smooth:true},
 {row:'A2',col:2,data:A_VI,grid:GRID_A6,nn:true,xdom:[0.03,0.5],ydom:[-7.5,-5.0],yt:YT_A,ym:0.25,fy:fmt1,title:'GR-RDX-2021',roman:'(vi)',q:'A',smooth:true},
 {row:'B1',col:0,data:B_I,grid:GRID_B1,nn:false,ydom:[0,250],yt:YT_B1,ym:25,fy:fmtI,title:'CHON-2019',roman:'(i)',q:'B',
  legend:{step:10.4,cols:[[0,9,9,10],[10,17,50,10],[18,22,100,102]]}},
 {row:'B1',col:1,data:B_II,grid:GRID_B23,nn:false,ydom:[0,250],yt:YT_B1,ym:25,fy:fmtI,title:'C-2013',roman:'(ii)',q:'B'},
 {row:'B1',col:2,data:B_III,grid:GRID_B23,nn:false,ydom:[0,250],yt:YT_B1,ym:25,fy:fmtI,title:'GR-RDX-2021',roman:'(iii)',q:'B'},
 {row:'B2',col:0,data:B_IV,grid:GRID_B4,nn:true,ydom:[0,300],yt:YT_B2,ym:25,fy:fmtI,title:'CHON-2019',roman:'(iv)',q:'B',
  legend:{step:10.5,cols:[[0,8,9,17],[9,16,100,74]]}},
 {row:'B2',col:1,data:B_V,grid:GRID_B56,nn:true,ydom:[0,300],yt:YT_B2,ym:25,fy:fmtI,title:'C-2013',roman:'(v)',q:'B'},
 {row:'B2',col:2,data:B_VI,grid:GRID_B56,nn:true,ydom:[0,300],yt:YT_B2,ym:25,fy:fmtI,title:'GR-RDX-2021',roman:'(vi)',q:'B'},
 {row:'C1',col:0,data:C_I,grid:GRID_C13,nn:false,ydom:[-1,1.25],yt:YT_C1,ym:0.25,fy:fmt1,title:'CHON-2019',roman:'(i)',q:'C',
  legend:{step:10.6,cols:[[0,7,36,78],[8,15,85,78],[16,22,126,88.6]]}},
 {row:'C1',col:1,data:C_II,grid:GRID_C13,nn:false,ydom:[-1,1.25],yt:YT_C1,ym:0.25,fy:fmt1,title:'C-2013',roman:'(ii)',q:'C'},
 {row:'C1',col:2,data:C_III,grid:GRID_C13,nn:false,ydom:[-1,1.25],yt:YT_C1,ym:0.25,fy:fmt1,title:'GR-RDX-2021',roman:'(iii)',q:'C'},
 {row:'C2',col:0,data:C_IV,grid:GRID_C4,nn:true,ydom:[-0.25,0.8],yt:YT_C2,ym:0.1,fy:fmt1,title:'CHON-2019',roman:'(iv)',q:'C',
  legend:{step:10.75,cols:[[0,8,60,65],[9,16,107,65]]}},
 {row:'C2',col:1,data:C_V,grid:GRID_C5,nn:true,ydom:[-0.25,0.8],yt:YT_C2,ym:0.1,fy:fmt1,title:'C-2013',roman:'(v)',q:'C'},
 {row:'C2',col:2,data:C_VI,grid:GRID_C6,nn:true,ydom:[-0.25,0.8],yt:YT_C2,ym:0.1,fy:fmt1,title:'GR-RDX-2021',roman:'(vi)',q:'C'}
];

function minorTicks(dom, step){
  const out=[]; const s=Math.ceil(dom[0]/step-1e-9);
  for(let k=s; k*step<=dom[1]+1e-9; k++){ out.push(+(k*step).toFixed(4)); }
  return out;
}

function ylabel(g, q, x, y){
  const t = g.append('text').attr('transform',`translate(${x},${y}) rotate(-90)`)
    .attr('text-anchor','middle').attr('font-family',SANS).attr('font-size',14).attr('fill','#000');
  if(q==='A'){ t.text('U/N (eV)'); }
  else if(q==='B'){ t.text('σ'); t.append('tspan').attr('font-size',9).attr('dy',3).text('zz'); t.append('tspan').attr('dy',-3).text(' (GPa)'); }
  else { t.attr('font-size',15).text('ν'); }
}

PANELS.forEach((p,pi)=>{
  const [x0,x1]=COLS[p.col]; const [y0,y1]=ROWS[p.row];
  const xdom = p.xdom || [0,0.5];
  const x = d3.scaleLinear().domain(xdom).range([x0,x1]);
  const y = d3.scaleLinear().domain(p.ydom).range([y1,y0]);
  const g = svg.append('g');
  const cid = 'clip'+pi;
  svg.append('defs').append('clipPath').attr('id',cid).append('rect')
    .attr('x',x0).attr('y',y0).attr('width',x1-x0).attr('height',y1-y0);

  const colorIdx = p.nn ? NN_COLOR : N0_COLOR;
  const dash = p.nn ? NN_DASH : N0_DASH;
  const labels = p.nn ? NN_LABELS : N0_LABELS;
  const line = d3.line().x(d=>x(d[0])).y(d=>y(d[1])).curve(p.smooth ? d3.curveMonotoneX : d3.curveLinear);
  const lg = g.append('g').attr('clip-path',`url(#${cid})`);
  p.data.forEach((s,i)=>{
    const pts = s[0].map((v,j)=>[p.grid[j],v]);
    for(let k=0;k+1<s[1].length;k+=2) pts.push([s[1][k],s[1][k+1]]);
    lg.append('path').attr('d',line(pts)).attr('fill','none')
      .attr('stroke',COLORS[colorIdx[i]]).attr('stroke-width',1)
      .attr('stroke-dasharray',dash[i]?'3,2':null);
  });

  // axes (ticks inward on all sides)
  const xt = X_TICKS.filter(v=>v>=xdom[0]-1e-9);
  const xm = X_MINOR.filter(v=>v>=xdom[0]);
  const ym = minorTicks(p.ydom,p.ym).filter(v=>!p.yt.some(t=>Math.abs(t-v)<1e-6));
  const ytv = p.yt.filter(v=>v>=p.ydom[0]-1e-9 && v<=p.ydom[1]+1e-9);
  const styleAxis = a => { a.select('.domain').remove(); a.selectAll('line').attr('stroke','#333'); a.attr('font-family',SERIF).attr('font-size',12); a.selectAll('text').attr('fill','#000'); };
  styleAxis(g.append('g').attr('transform',`translate(0,${y1})`).call(d3.axisBottom(x).tickValues(xt).tickSize(-5).tickPadding(2).tickFormat(fmtX)));
  styleAxis(g.append('g').attr('transform',`translate(0,${y1})`).call(d3.axisBottom(x).tickValues(xm).tickSize(-2.5).tickFormat('')));
  styleAxis(g.append('g').attr('transform',`translate(0,${y0})`).call(d3.axisTop(x).tickValues(xt).tickSize(-5).tickFormat('')));
  styleAxis(g.append('g').attr('transform',`translate(0,${y0})`).call(d3.axisTop(x).tickValues(xm).tickSize(-2.5).tickFormat('')));
  styleAxis(g.append('g').attr('transform',`translate(${x0},0)`).call(d3.axisLeft(y).tickValues(ytv).tickSize(-5).tickPadding(4).tickFormat(p.fy)));
  styleAxis(g.append('g').attr('transform',`translate(${x0},0)`).call(d3.axisLeft(y).tickValues(ym).tickSize(-2.5).tickFormat('')));
  styleAxis(g.append('g').attr('transform',`translate(${x1},0)`).call(d3.axisRight(y).tickValues(ytv).tickSize(-5).tickFormat('')));
  styleAxis(g.append('g').attr('transform',`translate(${x1},0)`).call(d3.axisRight(y).tickValues(ym).tickSize(-2.5).tickFormat('')));
  g.append('rect').attr('x',x0).attr('y',y0).attr('width',x1-x0).attr('height',y1-y0)
    .attr('fill','none').attr('stroke','#333').attr('stroke-width',1);

  // titles and labels
  g.append('text').attr('x',(x0+x1)/2).attr('y',y0-3).attr('text-anchor','middle')
    .attr('font-family',SERIF).attr('font-size',13).text(p.title);
  g.append('text').attr('x',x1-4).attr('y',y0+18).attr('text-anchor','end')
    .attr('font-family',SERIF).attr('font-size',14).text(p.roman);
  const ex = g.append('text').attr('x',(x0+x1)/2).attr('y',y1+19).attr('text-anchor','middle')
    .attr('font-family',SERIF).attr('font-size',13).text('ε');
  ex.append('tspan').attr('font-size',8.5).attr('dy',2.5).text('zz');
  const yoff = p.q==='A' ? 28 : (p.q==='B' ? 25 : 29);
  ylabel(g, p.q, x0-yoff, (y0+y1)/2);

  // legend
  if(p.legend){
    const L = g.append('g').attr('font-family',SERIF).attr('font-size',9);
    p.legend.cols.forEach(([a,b,ox,oy])=>{
      for(let i=a;i<=b;i++){
        const yy = y0+oy+(i-a)*p.legend.step;
        L.append('line').attr('x1',x0+ox).attr('x2',x0+ox+10).attr('y1',yy).attr('y2',yy)
          .attr('stroke',COLORS[colorIdx[i]]).attr('stroke-width',1.2).attr('stroke-dasharray',dash[i]?'2.5,1.5':null);
        L.append('text').attr('x',x0+ox+12).attr('y',yy).attr('dy','0.35em').text(labels[i]);
      }
    });
  }
});

// row labels and section letters
const ROW_LABELS = [['A1','(n,0)'],['A2','(n,n)'],['B1','(n,0)'],['B2','(n,n)'],['C1','(n,0)'],['C2','(n,n)']];
ROW_LABELS.forEach(([r,t])=>{
  const [y0,y1]=ROWS[r];
  svg.append('text').attr('x',25).attr('y',(y0+y1)/2).attr('dy','0.35em').attr('text-anchor','middle')
    .attr('font-family',SERIF).attr('font-size',23).text(t);
});
const LETTERS = [['A',16],['B',442],['C',856]];
LETTERS.forEach(([t,yy])=>{
  svg.append('text').attr('x',1).attr('y',yy).attr('font-family',SANS).attr('font-weight','bold')
    .attr('font-size',19).text(t);
});
</script>
</body></html>
